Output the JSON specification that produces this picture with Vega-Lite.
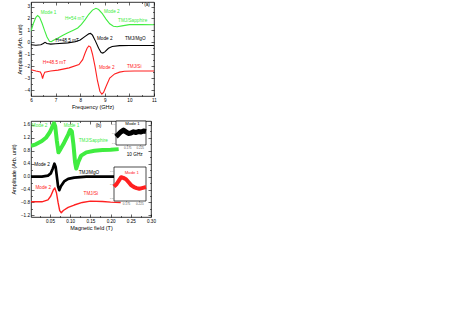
{
  "$schema": "https://vega.github.io/schema/vega-lite/v6.json",
  "padding": {"left": 11, "top": 1, "right": 5, "bottom": 5},
  "spacing": 10,
  "datasets": {
    "curvesA": [
      {"s": "Sapphire", "x": 6.0, "y": 0.95}, {"s": "Sapphire", "x": 6.1, "y": 1.6}, {"s": "Sapphire", "x": 6.2, "y": 2.1}, {"s": "Sapphire", "x": 6.27, "y": 2.25}, {"s": "Sapphire", "x": 6.35, "y": 2.1}, {"s": "Sapphire", "x": 6.45, "y": 1.6}, {"s": "Sapphire", "x": 6.55, "y": 1.0}, {"s": "Sapphire", "x": 6.65, "y": 0.45}, {"s": "Sapphire", "x": 6.75, "y": 0.08}, {"s": "Sapphire", "x": 6.82, "y": 0.05}, {"s": "Sapphire", "x": 6.9, "y": 0.15}, {"s": "Sapphire", "x": 7.1, "y": 0.36}, {"s": "Sapphire", "x": 7.3, "y": 0.6}, {"s": "Sapphire", "x": 7.5, "y": 0.8}, {"s": "Sapphire", "x": 7.7, "y": 1.0}, {"s": "Sapphire", "x": 7.9, "y": 1.2}, {"s": "Sapphire", "x": 8.05, "y": 1.5}, {"s": "Sapphire", "x": 8.2, "y": 1.9}, {"s": "Sapphire", "x": 8.35, "y": 2.35}, {"s": "Sapphire", "x": 8.5, "y": 2.7}, {"s": "Sapphire", "x": 8.64, "y": 2.85}, {"s": "Sapphire", "x": 8.75, "y": 2.75}, {"s": "Sapphire", "x": 8.9, "y": 2.4}, {"s": "Sapphire", "x": 9.05, "y": 1.95}, {"s": "Sapphire", "x": 9.2, "y": 1.55}, {"s": "Sapphire", "x": 9.35, "y": 1.35}, {"s": "Sapphire", "x": 9.5, "y": 1.3}, {"s": "Sapphire", "x": 9.7, "y": 1.38}, {"s": "Sapphire", "x": 10.0, "y": 1.48}, {"s": "Sapphire", "x": 10.5, "y": 1.5}, {"s": "Sapphire", "x": 11.0, "y": 1.47},
      {"s": "MgO", "x": 6.0, "y": -0.2}, {"s": "MgO", "x": 6.2, "y": -0.25}, {"s": "MgO", "x": 6.4, "y": -0.2}, {"s": "MgO", "x": 6.5, "y": -0.1}, {"s": "MgO", "x": 6.57, "y": 0.0}, {"s": "MgO", "x": 6.65, "y": -0.1}, {"s": "MgO", "x": 6.8, "y": -0.15}, {"s": "MgO", "x": 7.0, "y": -0.12}, {"s": "MgO", "x": 7.5, "y": -0.05}, {"s": "MgO", "x": 7.8, "y": 0.05}, {"s": "MgO", "x": 8.0, "y": 0.2}, {"s": "MgO", "x": 8.2, "y": 0.5}, {"s": "MgO", "x": 8.35, "y": 0.72}, {"s": "MgO", "x": 8.42, "y": 0.75}, {"s": "MgO", "x": 8.5, "y": 0.6}, {"s": "MgO", "x": 8.62, "y": 0.1}, {"s": "MgO", "x": 8.75, "y": -0.5}, {"s": "MgO", "x": 8.85, "y": -0.85}, {"s": "MgO", "x": 8.92, "y": -0.9}, {"s": "MgO", "x": 9.0, "y": -0.8}, {"s": "MgO", "x": 9.15, "y": -0.5}, {"s": "MgO", "x": 9.3, "y": -0.35}, {"s": "MgO", "x": 9.6, "y": -0.28}, {"s": "MgO", "x": 10.0, "y": -0.27}, {"s": "MgO", "x": 11.0, "y": -0.27},
      {"s": "Si", "x": 6.0, "y": -2.3}, {"s": "Si", "x": 6.2, "y": -2.4}, {"s": "Si", "x": 6.38, "y": -2.48}, {"s": "Si", "x": 6.43, "y": -2.7}, {"s": "Si", "x": 6.47, "y": -3.05}, {"s": "Si", "x": 6.51, "y": -2.75}, {"s": "Si", "x": 6.56, "y": -2.5}, {"s": "Si", "x": 6.8, "y": -2.4}, {"s": "Si", "x": 7.1, "y": -2.33}, {"s": "Si", "x": 7.55, "y": -2.14}, {"s": "Si", "x": 7.95, "y": -1.86}, {"s": "Si", "x": 8.1, "y": -1.45}, {"s": "Si", "x": 8.2, "y": -0.9}, {"s": "Si", "x": 8.28, "y": -0.5}, {"s": "Si", "x": 8.35, "y": -0.3}, {"s": "Si", "x": 8.42, "y": -0.4}, {"s": "Si", "x": 8.5, "y": -1.0}, {"s": "Si", "x": 8.6, "y": -2.0}, {"s": "Si", "x": 8.7, "y": -3.2}, {"s": "Si", "x": 8.8, "y": -4.1}, {"s": "Si", "x": 8.88, "y": -4.35}, {"s": "Si", "x": 8.95, "y": -4.2}, {"s": "Si", "x": 9.05, "y": -3.7}, {"s": "Si", "x": 9.2, "y": -3.0}, {"s": "Si", "x": 9.4, "y": -2.65}, {"s": "Si", "x": 9.6, "y": -2.5}, {"s": "Si", "x": 9.8, "y": -2.42}, {"s": "Si", "x": 10.2, "y": -2.4}, {"s": "Si", "x": 11.0, "y": -2.4}
    ],
    "labelsA": [
      {"s": "Sapphire", "x": 6.4, "y": 2.45, "t": "Mode 1"},
      {"s": "Sapphire", "x": 7.38, "y": 1.94, "t": "H=54 mT"},
      {"s": "Sapphire", "x": 8.97, "y": 2.5, "t": "Mode 2"},
      {"s": "Sapphire", "x": 9.54, "y": 1.78, "t": "TMJ/Sapphire"},
      {"s": "MgO", "x": 10.6, "y": 3.1, "t": "(a)"},
      {"s": "MgO", "x": 7.0, "y": 0.1, "t": "H=48.5 mT"},
      {"s": "MgO", "x": 8.68, "y": 0.27, "t": "Mode 2"},
      {"s": "MgO", "x": 9.82, "y": 0.27, "t": "TMJ/MgO"},
      {"s": "Si", "x": 6.48, "y": -1.72, "t": "H=48.5 mT"},
      {"s": "Si", "x": 8.76, "y": -2.14, "t": "Mode 2"},
      {"s": "Si", "x": 9.9, "y": -2.05, "t": "TMJ/Si"}
    ],
    "curvesB": [
      {"s": "Sapphire", "x": 0.003, "y": 0.95}, {"s": "Sapphire", "x": 0.015, "y": 1.0}, {"s": "Sapphire", "x": 0.03, "y": 1.1}, {"s": "Sapphire", "x": 0.04, "y": 1.2}, {"s": "Sapphire", "x": 0.05, "y": 1.38}, {"s": "Sapphire", "x": 0.056, "y": 1.55}, {"s": "Sapphire", "x": 0.06, "y": 1.65}, {"s": "Sapphire", "x": 0.063, "y": 1.55}, {"s": "Sapphire", "x": 0.067, "y": 1.1}, {"s": "Sapphire", "x": 0.071, "y": 0.75}, {"s": "Sapphire", "x": 0.076, "y": 0.85}, {"s": "Sapphire", "x": 0.085, "y": 1.05}, {"s": "Sapphire", "x": 0.095, "y": 1.3}, {"s": "Sapphire", "x": 0.1, "y": 1.45}, {"s": "Sapphire", "x": 0.104, "y": 1.4}, {"s": "Sapphire", "x": 0.108, "y": 1.0}, {"s": "Sapphire", "x": 0.112, "y": 0.45}, {"s": "Sapphire", "x": 0.115, "y": 0.25}, {"s": "Sapphire", "x": 0.12, "y": 0.45}, {"s": "Sapphire", "x": 0.127, "y": 0.65}, {"s": "Sapphire", "x": 0.14, "y": 0.75}, {"s": "Sapphire", "x": 0.16, "y": 0.8}, {"s": "Sapphire", "x": 0.18, "y": 0.82}, {"s": "Sapphire", "x": 0.2, "y": 0.83}, {"s": "Sapphire", "x": 0.22, "y": 0.85},
      {"s": "MgO", "x": 0.003, "y": 0.0}, {"s": "MgO", "x": 0.03, "y": 0.0}, {"s": "MgO", "x": 0.045, "y": 0.03}, {"s": "MgO", "x": 0.052, "y": 0.1}, {"s": "MgO", "x": 0.057, "y": 0.25}, {"s": "MgO", "x": 0.061, "y": 0.4}, {"s": "MgO", "x": 0.064, "y": 0.3}, {"s": "MgO", "x": 0.067, "y": 0.0}, {"s": "MgO", "x": 0.07, "y": -0.3}, {"s": "MgO", "x": 0.073, "y": -0.42}, {"s": "MgO", "x": 0.077, "y": -0.3}, {"s": "MgO", "x": 0.085, "y": -0.15}, {"s": "MgO", "x": 0.095, "y": -0.07}, {"s": "MgO", "x": 0.11, "y": -0.03}, {"s": "MgO", "x": 0.14, "y": 0.0}, {"s": "MgO", "x": 0.22, "y": 0.0},
      {"s": "Si", "x": 0.003, "y": -0.78}, {"s": "Si", "x": 0.03, "y": -0.78}, {"s": "Si", "x": 0.045, "y": -0.72}, {"s": "Si", "x": 0.052, "y": -0.6}, {"s": "Si", "x": 0.058, "y": -0.42}, {"s": "Si", "x": 0.062, "y": -0.35}, {"s": "Si", "x": 0.066, "y": -0.5}, {"s": "Si", "x": 0.07, "y": -0.8}, {"s": "Si", "x": 0.074, "y": -1.05}, {"s": "Si", "x": 0.078, "y": -1.12}, {"s": "Si", "x": 0.083, "y": -1.05}, {"s": "Si", "x": 0.095, "y": -0.95}, {"s": "Si", "x": 0.11, "y": -0.88}, {"s": "Si", "x": 0.13, "y": -0.8}, {"s": "Si", "x": 0.15, "y": -0.76}, {"s": "Si", "x": 0.18, "y": -0.77}, {"s": "Si", "x": 0.2, "y": -0.79}, {"s": "Si", "x": 0.225, "y": -0.8}
    ],
    "labelsB": [
      {"s": "Sapphire", "x": 0.005, "y": 1.58, "t": "Mode 2"},
      {"s": "Sapphire", "x": 0.084, "y": 1.55, "t": "Mode 1"},
      {"s": "MgO", "x": 0.163, "y": 1.55, "t": "(b)"},
      {"s": "Sapphire", "x": 0.121, "y": 1.09, "t": "TMJ/Sapphire"},
      {"s": "MgO", "x": 0.24, "y": 0.68, "t": "10 GHz"},
      {"s": "MgO", "x": 0.011, "y": 0.37, "t": "Mode 2"},
      {"s": "MgO", "x": 0.121, "y": 0.12, "t": "TMJ/MgO"},
      {"s": "Si", "x": 0.014, "y": -0.35, "t": "Mode 2"},
      {"s": "Si", "x": 0.133, "y": -0.54, "t": "TMJ/Si"}
    ],
    "inset1": [
      {"x": 0.13, "y": 0.35}, {"x": 0.14, "y": 0.45}, {"x": 0.15, "y": 0.55}, {"x": 0.16, "y": 0.62}, {"x": 0.17, "y": 0.55}, {"x": 0.18, "y": 0.48}, {"x": 0.19, "y": 0.5}, {"x": 0.2, "y": 0.55}, {"x": 0.21, "y": 0.52}, {"x": 0.22, "y": 0.56}, {"x": 0.23, "y": 0.54}, {"x": 0.24, "y": 0.58}, {"x": 0.25, "y": 0.56}
    ],
    "inset2": [
      {"x": 0.13, "y": 0.42}, {"x": 0.14, "y": 0.5}, {"x": 0.15, "y": 0.62}, {"x": 0.157, "y": 0.7}, {"x": 0.165, "y": 0.68}, {"x": 0.175, "y": 0.64}, {"x": 0.185, "y": 0.55}, {"x": 0.195, "y": 0.46}, {"x": 0.205, "y": 0.41}, {"x": 0.215, "y": 0.38}, {"x": 0.225, "y": 0.36}, {"x": 0.235, "y": 0.38}, {"x": 0.245, "y": 0.4}, {"x": 0.25, "y": 0.41}
    ]
  },
  "vconcat": [
    {
      "width": 123,
      "height": 94,
      "resolve": {"axis": {"x": "independent", "y": "independent"}},
      "layer": [
        {
          "data": {"name": "curvesA"},
          "mark": {"type": "line", "strokeWidth": 1.1, "clip": true},
          "encoding": {
            "x": {"field": "x", "type": "quantitative", "scale": {"domain": [6, 11], "nice": false, "zero": false},
              "axis": {"orient": "bottom", "title": "Frequency (GHz)", "format": "d", "values": [6, 7, 8, 9, 10, 11]}},
            "y": {"field": "y", "type": "quantitative", "scale": {"domain": [-4.5, 3.38], "nice": false, "zero": false},
              "axis": {"orient": "left", "title": "Amplitude (Arb. unit)", "format": "d", "values": [-4, -3, -2, -1, 0, 1, 2, 3]}},
            "color": {"field": "s", "type": "nominal", "scale": {"domain": ["Sapphire", "MgO", "Si"], "range": ["#40ec40", "#000000", "#ff2020"]}, "legend": null}
          }
        },
        {
          "data": {"name": "labelsA"},
          "mark": {"type": "text", "align": "left", "baseline": "middle", "fontSize": 4.7},
          "encoding": {
            "x": {"field": "x", "type": "quantitative", "axis": null},
            "y": {"field": "y", "type": "quantitative", "axis": null},
            "text": {"field": "t"},
            "color": {"field": "s", "type": "nominal", "legend": null}
          }
        },
        {
          "data": {"name": "curvesA"},
          "mark": {"type": "point", "opacity": 0},
          "encoding": {
            "x": {"field": "x", "type": "quantitative", "axis": {"orient": "top", "title": null, "labels": false, "values": [6, 7, 8, 9, 10, 11]}},
            "y": {"field": "y", "type": "quantitative", "axis": {"orient": "right", "title": null, "labels": false, "values": [-4, -3, -2, -1, 0, 1, 2, 3]}}
          }
        },
        {
          "data": {"name": "curvesA"},
          "mark": {"type": "point", "opacity": 0},
          "encoding": {
            "x": {"field": "x", "type": "quantitative", "axis": {"orient": "bottom", "title": null, "labels": false, "tickSize": -1.5, "values": [6.5, 7.5, 8.5, 9.5, 10.5]}},
            "y": {"field": "y", "type": "quantitative", "axis": {"orient": "left", "title": null, "labels": false, "tickSize": -1.5, "values": [-3.5, -2.5, -1.5, -0.5, 0.5, 1.5, 2.5]}}
          }
        },
        {
          "data": {"name": "curvesA"},
          "mark": {"type": "point", "opacity": 0},
          "encoding": {
            "x": {"field": "x", "type": "quantitative", "axis": {"orient": "top", "title": null, "labels": false, "tickSize": -1.5, "values": [6.5, 7.5, 8.5, 9.5, 10.5]}},
            "y": {"field": "y", "type": "quantitative", "axis": {"orient": "right", "title": null, "labels": false, "tickSize": -1.5, "values": [-3.5, -2.5, -1.5, -0.5, 0.5, 1.5, 2.5]}}
          }
        }
      ]
    },
    {
      "width": 120,
      "height": 96,
      "resolve": {"scale": {"x": "independent", "y": "independent"}, "axis": {"x": "independent", "y": "independent"}},
      "layer": [
        {
          "resolve": {"axis": {"x": "independent", "y": "independent"}},
          "layer": [
            {
              "data": {"name": "curvesB"},
              "mark": {"type": "line", "clip": true, "strokeJoin": "round"},
              "encoding": {
                "x": {"field": "x", "type": "quantitative", "scale": {"domain": [0.003, 0.3], "nice": false, "zero": false},
                  "axis": {"orient": "bottom", "title": "Magnetic field (T)", "format": ".2f", "values": [0.05, 0.1, 0.15, 0.2, 0.25, 0.3]}},
                "y": {"field": "y", "type": "quantitative", "scale": {"domain": [-1.25, 1.72], "nice": false, "zero": false},
                  "axis": {"orient": "left", "title": "Amplitude (Arb. unit)", "titlePadding": 4, "format": ".1f", "values": [-1.2, -0.8, -0.4, 0, 0.4, 0.8, 1.2, 1.6]}},
                "color": {"field": "s", "type": "nominal", "scale": {"domain": ["Sapphire", "MgO", "Si"], "range": ["#40ec40", "#000000", "#ff2020"]}, "legend": null},
                "strokeWidth": {"field": "s", "type": "nominal", "scale": {"domain": ["Sapphire", "MgO", "Si"], "range": [4, 1.4, 2.4]}, "legend": null}
              }
            },
            {
              "data": {"name": "labelsB"},
              "mark": {"type": "text", "align": "left", "baseline": "middle", "fontSize": 4.7},
              "encoding": {
                "x": {"field": "x", "type": "quantitative", "axis": null},
                "y": {"field": "y", "type": "quantitative", "axis": null},
                "text": {"field": "t"},
                "color": {"field": "s", "type": "nominal", "legend": null}
              }
            },
            {
              "data": {"name": "curvesB"},
              "mark": {"type": "point", "opacity": 0},
              "encoding": {
                "x": {"field": "x", "type": "quantitative", "axis": {"orient": "top", "title": null, "labels": false, "values": [0.05, 0.1, 0.15, 0.2, 0.25, 0.3]}},
                "y": {"field": "y", "type": "quantitative", "axis": {"orient": "right", "title": null, "labels": false, "values": [-1.2, -0.8, -0.4, 0, 0.4, 0.8, 1.2, 1.6]}}
              }
            },
            {
              "data": {"name": "curvesB"},
              "mark": {"type": "point", "opacity": 0},
              "encoding": {
                "x": {"field": "x", "type": "quantitative", "axis": {"orient": "bottom", "title": null, "labels": false, "tickSize": -1.5, "values": [0.025, 0.075, 0.125, 0.175, 0.225, 0.275]}},
                "y": {"field": "y", "type": "quantitative", "axis": {"orient": "left", "title": null, "labels": false, "tickSize": -1.5, "values": [-1.0, -0.6, -0.2, 0.2, 0.6, 1.0, 1.4]}}
              }
            },
            {
              "data": {"name": "curvesB"},
              "mark": {"type": "point", "opacity": 0},
              "encoding": {
                "x": {"field": "x", "type": "quantitative", "axis": {"orient": "top", "title": null, "labels": false, "tickSize": -1.5, "values": [0.025, 0.075, 0.125, 0.175, 0.225, 0.275]}},
                "y": {"field": "y", "type": "quantitative", "axis": {"orient": "right", "title": null, "labels": false, "tickSize": -1.5, "values": [-1.0, -0.6, -0.2, 0.2, 0.6, 1.0, 1.4]}}
              }
            }
          ]
        },
        {
          "layer": [
            {
              "data": {"values": [{}]},
              "mark": {"type": "rect", "fill": "white", "stroke": "black", "strokeWidth": 0.7},
              "encoding": {
                "x": {"datum": 0.13, "type": "quantitative", "scale": {"domain": [0.13, 0.25], "range": [85, 115], "nice": false, "zero": false},
                  "axis": {"orient": "bottom", "offset": -72, "title": null, "values": [0.175, 0.225], "format": ".3f", "labelFontSize": 3, "labelColor": "#555", "tickSize": -1.5, "labelPadding": 2.5}},
                "x2": {"datum": 0.25},
                "y": {"datum": 0, "type": "quantitative", "scale": {"domain": [0, 1], "range": [24, 0], "nice": false, "zero": false},
                  "axis": {"orient": "left", "offset": -85, "title": null, "values": [0.1, 0.2, 0.3, 0.4, 0.5, 0.6, 0.7, 0.8, 0.9], "format": ".1f", "labelFontSize": 2.5, "labelColor": "#777", "tickSize": -1.5, "labelPadding": 2.5}},
                "y2": {"datum": 1}
              }
            },
            {
              "data": {"name": "inset1"},
              "mark": {"type": "line", "color": "black", "strokeWidth": 5, "strokeJoin": "round"},
              "encoding": {
                "x": {"field": "x", "type": "quantitative"},
                "y": {"field": "y", "type": "quantitative"}
              }
            },
            {
              "data": {"values": [{"x": 0.196, "y": 0.88, "t": "Mode 1"}]},
              "mark": {"type": "text", "align": "center", "baseline": "middle", "fontSize": 4.3, "color": "black"},
              "encoding": {
                "x": {"field": "x", "type": "quantitative"},
                "y": {"field": "y", "type": "quantitative"},
                "text": {"field": "t"}
              }
            }
          ]
        },
        {
          "layer": [
            {
              "data": {"values": [{}]},
              "mark": {"type": "rect", "fill": "white", "stroke": "black", "strokeWidth": 0.7},
              "encoding": {
                "x": {"datum": 0.13, "type": "quantitative", "scale": {"domain": [0.13, 0.25], "range": [83, 115], "nice": false, "zero": false},
                  "axis": {"orient": "bottom", "offset": -16, "title": null, "values": [0.175, 0.225], "format": ".3f", "labelFontSize": 3, "labelColor": "#555", "tickSize": -1.5, "labelPadding": 2.5}},
                "x2": {"datum": 0.25},
                "y": {"datum": 0, "type": "quantitative", "scale": {"domain": [0, 1], "range": [80, 46], "nice": false, "zero": false},
                  "axis": {"orient": "left", "offset": -83, "title": null, "values": [0.1, 0.2, 0.3, 0.4, 0.5, 0.6, 0.7, 0.8, 0.9], "format": ".1f", "labelFontSize": 2.5, "labelColor": "#777", "tickSize": -1.5, "labelPadding": 2.5}},
                "y2": {"datum": 1}
              }
            },
            {
              "data": {"name": "inset2"},
              "mark": {"type": "line", "color": "#ff2020", "strokeWidth": 4, "strokeJoin": "round"},
              "encoding": {
                "x": {"field": "x", "type": "quantitative"},
                "y": {"field": "y", "type": "quantitative"}
              }
            },
            {
              "data": {"values": [{"x": 0.17, "y": 0.83, "t": "Mode 1"}]},
              "mark": {"type": "text", "align": "left", "baseline": "middle", "fontSize": 4.3, "color": "#ff2020"},
              "encoding": {
                "x": {"field": "x", "type": "quantitative"},
                "y": {"field": "y", "type": "quantitative"},
                "text": {"field": "t"}
              }
            }
          ]
        }
      ]
    }
  ],
  "config": {
    "font": "Liberation Sans",
    "view": {"stroke": "black", "strokeWidth": 0.8},
    "axis": {
      "domain": false,
      "tickColor": "black",
      "tickWidth": 0.6,
      "tickSize": -3,
      "labelFontSize": 4.6,
      "labelColor": "black",
      "labelPadding": 4.5,
      "labelOverlap": false,
      "labelFlush": false,
      "titleFontSize": 5.5,
      "titleFontWeight": "normal",
      "titleColor": "black",
      "titlePadding": 2,
      "grid": false
    }
  }
}
